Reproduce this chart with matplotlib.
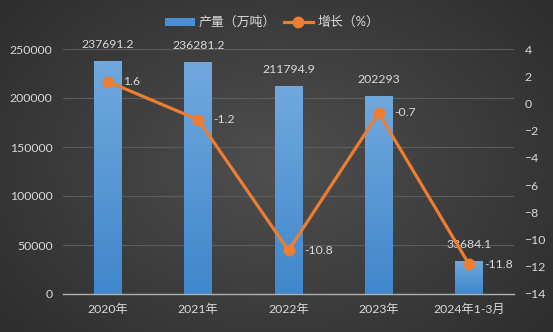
import matplotlib
matplotlib.use("Agg")
import matplotlib.pyplot as plt
import numpy as np
from matplotlib.lines import Line2D
from matplotlib.patches import Patch

plt.rcParams['font.family'] = ['Lato', 'Noto Sans CJK SC', 'DejaVu Sans']

categories = ["2020年", "2021年", "2022年", "2023年", "2024年1-3月"]
production = [237691.2, 236281.2, 211794.9, 202293, 33684.1]
production_labels = ["237691.2", "236281.2", "211794.9", "202293", "33684.1"]
growth = [1.6, -1.2, -10.8, -0.7, -11.8]
growth_labels = ["1.6", "-1.2", "-10.8", "-0.7", "-11.8"]

W, H = 553, 332
FS = 8.8
TXT = '#d9d9d9'
fig = plt.figure(figsize=(W/100, H/100), dpi=100)

# background gradient
bg = fig.add_axes([0, 0, 1, 1])
yy, xx = np.mgrid[0:1:200j, 0:1:300j]
r = np.sqrt(((xx-0.5)*1.2)**2 + (yy-0.5)**2)
val = 0.31 - 0.17*r
bg.imshow(np.dstack([val, val, val]), aspect='auto', extent=[0, 1, 0, 1])
bg.axis('off')

ax = fig.add_axes([63/W, 1-294/H, (514-63)/W, (294-49)/H])
ax.patch.set_alpha(0)
x = np.arange(len(categories))
bars = ax.bar(x, production, width=0.31, color='#4a8fd4', zorder=2)
ax.set_ylim(0, 250000)
ax.set_xlim(-0.5, len(categories)-0.5)
# gradient fill on bars
grad = np.linspace(0, 1, 100).reshape(-1, 1)
top_c = np.array([0.44, 0.66, 0.87])
bot_c = np.array([0.25, 0.53, 0.80])
img = top_c*grad[..., None] + bot_c*(1-grad[..., None])
img = img.reshape(100, 1, 3)
for b in bars:
    x0, w, h = b.get_x(), b.get_width(), b.get_height()
    im = ax.imshow(img, extent=[x0, x0+w, 0, h], origin='lower', aspect='auto', zorder=2.1)
    im.set_clip_path(b)
ax.set_ylim(0, 250000)
ax.set_xlim(-0.5, len(categories)-0.5)
ax.set_aspect('auto')
ax.set_yticks(np.arange(0, 250001, 50000))
ax.set_xticks(x)
ax.set_xticklabels(categories)
ax.grid(axis='y', color='#5c5c5c', linewidth=0.8, zorder=0)
for s in ['top', 'right', 'left']:
    ax.spines[s].set_visible(False)
ax.spines['bottom'].set_color('#b0b0b0')
ax.spines['bottom'].set_linewidth(1.0)
ax.tick_params(axis='both', length=0, colors=TXT, labelsize=FS)
ax.tick_params(axis='y', pad=7.5)
ax.tick_params(axis='x', pad=7)

for xi, v, lab in zip(x, production, production_labels):
    ax.annotate(lab, (xi, v), xytext=(0, 12), textcoords='offset points',
                ha='center', va='center', color=TXT, fontsize=FS, zorder=5)

ax2 = ax.twinx()
ax2.plot(x, growth, color='#ed7d31', linewidth=2.3, marker='o', markersize=7.5, zorder=3)
ax2.set_ylim(-14, 4)
ax2.set_yticks(np.arange(-14, 5, 2))
for s in ['top', 'right', 'left', 'bottom']:
    ax2.spines[s].set_visible(False)
ax2.tick_params(axis='y', length=0, colors=TXT, labelsize=FS, pad=7.5)
for xi, v, lab in zip(x, growth, growth_labels):
    ax2.annotate(lab, (xi, v), xytext=(11, 0), textcoords='offset points',
                 ha='left', va='center', color=TXT, fontsize=FS)

handles = [Patch(facecolor='#4a8fd4'),
           Line2D([0], [0], color='#ed7d31', linewidth=2.3, marker='o', markersize=7.5)]
fig.legend(handles, ["产量（万吨）", "增长（%）"], loc='center', bbox_to_anchor=(272/W, 1-22/H),
           ncol=2, frameon=False, fontsize=FS+0.5, labelcolor=TXT,
           handlelength=2.3, handleheight=0.6, columnspacing=0.6, handletextpad=0.3)

fig.savefig("out.png", dpi=100)
